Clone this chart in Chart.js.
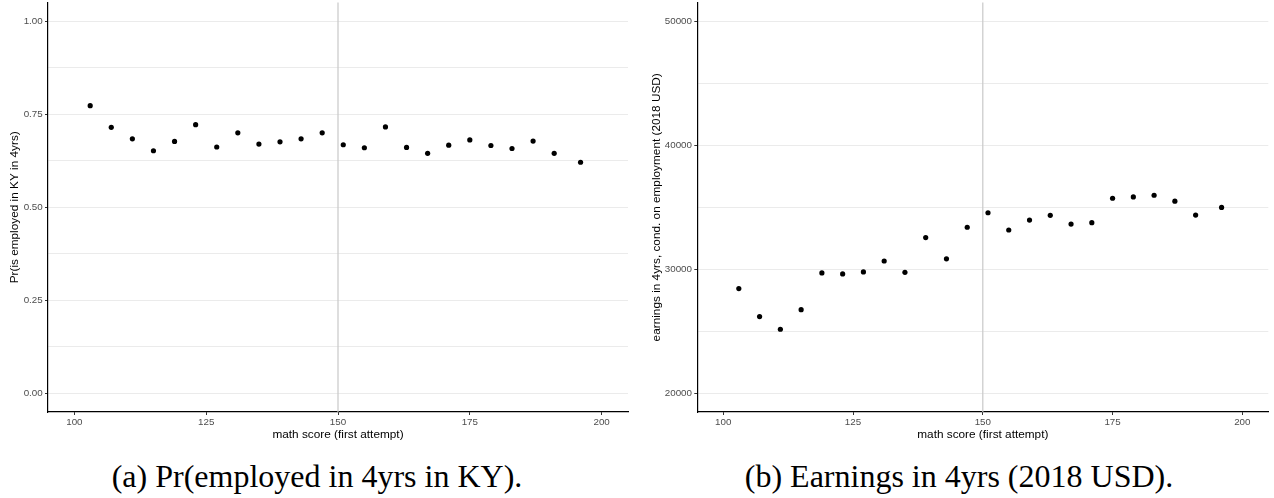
<!DOCTYPE html>
<html><head><meta charset="utf-8">
<script src="https://cdn.jsdelivr.net/npm/chart.js@4/dist/chart.umd.min.js"></script>
<style>
body{margin:0;background:#fff;width:1274px;height:498px;position:relative;overflow:hidden}
canvas{position:absolute;top:0}
#cA{left:0}
#cB{left:640px}
.cap{position:absolute;top:460px;width:600px;text-align:center;font-family:"Liberation Serif","Times New Roman",serif;font-size:32px;line-height:32px;color:#000;white-space:nowrap}
</style></head><body>
<canvas id="cA" width="640" height="450"></canvas>
<canvas id="cB" width="634" height="450"></canvas>
<div class="cap" style="left:17px">(a) Pr(employed in 4yrs in KY).</div>
<div class="cap" style="left:659px">(b) Earnings in 4yrs (2018 USD).</div>
<script>
const scores = [103,107,111,115,119,123,127,131,135,139,143,147,151,155,159,163,167,171,175,179,183,187,191,196];
const empRate = [0.773,0.715,0.684,0.652,0.677,0.722,0.662,0.700,0.670,0.676,0.684,0.700,0.668,0.660,0.716,0.661,0.645,0.667,0.681,0.666,0.658,0.678,0.645,0.621];
const earnings = [28450,26190,25170,26750,29710,29630,29790,30670,29760,32560,30850,33390,34560,33170,33970,34350,33650,33760,35730,35840,35970,35490,34370,34990];
const xTicks = [100,125,150,175,200];
const empTicks = [0,0.25,0.5,0.75,1];
const empMinor = [0.125,0.375,0.625,0.875];
const earnTicks = [20000,30000,40000,50000];
const earnMinor = [25000,35000,45000];
const cutoff = 150;
const xTitle = 'math score (first attempt)';
const empTitle = 'Pr(is employed in KY in 4yrs)';
const earnTitle = 'earnings in 4yrs, cond. on employment (2018 USD)';

const SANS = '"Liberation Sans", Arial, Helvetica, sans-serif';

const cutoffLine = {
  id: 'cutoff',
  beforeDatasetsDraw(chart) {
    const {ctx, chartArea: {top, bottom}, scales: {x}} = chart;
    const px = x.getPixelForValue(cutoff);
    ctx.save();
    ctx.strokeStyle = '#c8c8c8';
    ctx.lineWidth = 1.2;
    ctx.beginPath(); ctx.moveTo(px, top); ctx.lineTo(px, bottom); ctx.stroke();
    ctx.restore();
  }
};

function makeChart(id, yVals, cfg) {
  const allY = [...cfg.major, ...cfg.minor].sort((a, b) => a - b);
  return new Chart(document.getElementById(id), {
    type: 'scatter',
    data: {datasets: [{
      data: scores.map((s, i) => ({x: s, y: yVals[i]})),
      backgroundColor: '#000', borderColor: '#000', borderWidth: 0,
      pointRadius: 2.6, pointHoverRadius: 2.6
    }]},
    options: {
      responsive: false, animation: false, events: [],
      layout: {padding: {top: 0, left: 0, right: cfg.rightPad, bottom: 0}},
      plugins: {legend: {display: false}, tooltip: {enabled: false}},
      scales: {
        x: {
          type: 'linear', min: 95, max: 205,
          afterBuildTicks(s) { s.ticks = xTicks.map(v => ({value: v})); },
          afterFit(s) { s.height = 38; s.paddingLeft = 0; s.paddingRight = 0; },
          grid: {drawOnChartArea: false, drawTicks: true, tickLength: 3, tickColor: '#333', tickWidth: 1},
          border: {display: true, color: '#000', width: 1.2},
          ticks: {color: '#4d4d4d', font: {family: SANS, size: 9.8}, padding: 1.1, maxRotation: 0, autoSkip: false, callback: v => String(v)},
          title: {display: true, text: xTitle, color: '#000', font: {family: SANS, size: 11.8}, padding: {top: 0, bottom: 7.9}}
        },
        y: {
          type: 'linear', min: cfg.min, max: cfg.max,
          afterBuildTicks(s) { s.ticks = allY.map(v => ({value: v})); },
          afterFit(s) { s.width = cfg.yWidth; s.paddingTop = 0; s.paddingBottom = 0; },
          grid: {
            color: '#ebebeb', lineWidth: 1, tickLength: 3, tickWidth: 1,
            tickColor: c => (c.tick && cfg.major.includes(c.tick.value)) ? '#333' : 'rgba(0,0,0,0)'
          },
          border: {display: true, color: '#000', width: 1.2},
          ticks: {color: '#4d4d4d', font: {family: SANS, size: 9.8}, padding: 2.3, autoSkip: false,
                  callback: v => cfg.major.includes(v) ? cfg.fmt(v) : ''},
          title: {display: true, text: cfg.title, color: '#000', font: {family: SANS, size: 11.8}, padding: {top: cfg.titlePad, bottom: 0}}
        }
      }
    },
    plugins: [cutoffLine]
  });
}

makeChart('cA', empRate, {
  min: -0.05, max: 1.05, major: empTicks, minor: empMinor, fmt: v => v.toFixed(2),
  yWidth: 48, rightPad: 12, title: empTitle, titlePad: 7.6
});
makeChart('cB', earnings, {
  min: 18500, max: 51500, major: earnTicks, minor: earnMinor, fmt: v => String(v),
  yWidth: 57.3, rightPad: 5.7, title: earnTitle, titlePad: 9.6
});
</script>
</body></html>
